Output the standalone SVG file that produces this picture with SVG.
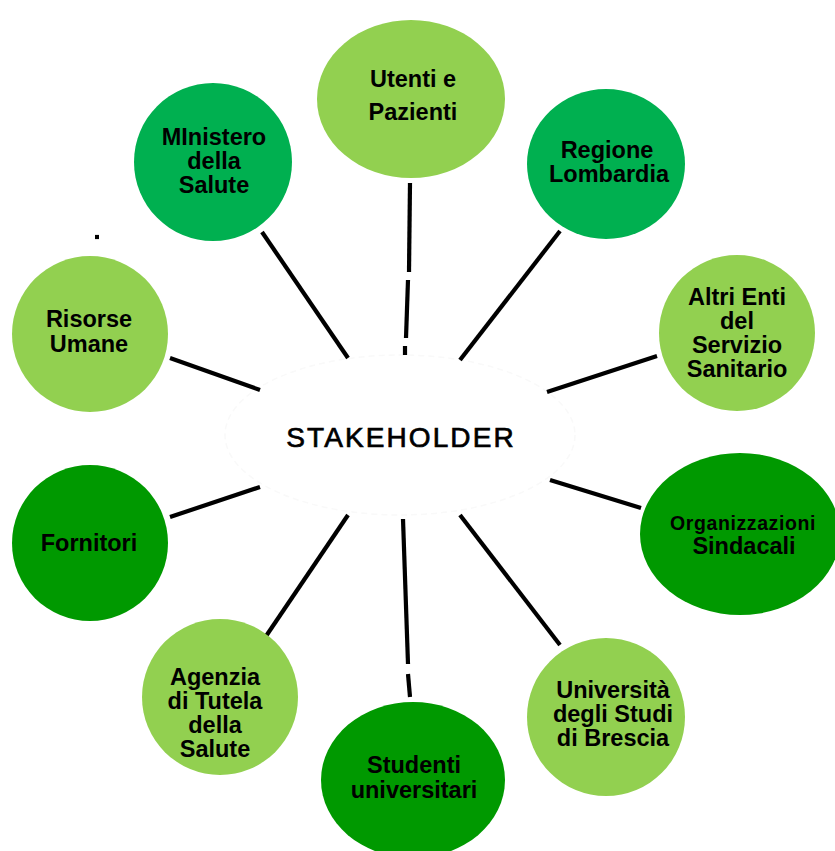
<svg xmlns="http://www.w3.org/2000/svg" width="835" height="851" viewBox="0 0 835 851">
  <style>
    .light { fill: #92D050; }
    .mid { fill: #00B050; }
    .dark { fill: #009900; }
    .lbl { font-family: "Liberation Sans", Arial, sans-serif; font-weight: bold; font-size: 23.5px; fill: #000; text-anchor: middle; }
    .conn line { stroke: #000; stroke-width: 4.2; stroke-linecap: butt; }
    .hub { font-family: "Liberation Sans", Arial, sans-serif; font-size: 28px; letter-spacing: 2.1px; fill: #000; stroke: #000; stroke-width: 0.7; text-anchor: middle; }
  </style>
  <rect width="835" height="851" fill="#ffffff"/>

  <!-- central hub -->
  <g id="hub">
    <ellipse cx="400" cy="435" rx="175" ry="80" fill="#ffffff" stroke="#f9f9f9" stroke-width="1.5" stroke-dasharray="6 4"/>
    <text class="hub" x="401" y="447">STAKEHOLDER</text>
  </g>

  <!-- spokes -->
  <g id="connectors" class="conn">
    <line x1="410" y1="183" x2="409" y2="272"/>
    <line x1="408" y1="280" x2="406" y2="338"/>
    <line x1="405" y1="346" x2="405" y2="355"/>
    <line x1="262" y1="232" x2="348" y2="358"/>
    <line x1="560" y1="231" x2="460" y2="360"/>
    <line x1="170" y1="358" x2="260" y2="390"/>
    <line x1="657" y1="356" x2="547" y2="392"/>
    <line x1="550" y1="480" x2="641" y2="508"/>
    <line x1="170" y1="517" x2="260" y2="487"/>
    <line x1="260" y1="645" x2="348" y2="515"/>
    <line x1="460" y1="515" x2="560" y2="645"/>
    <line x1="403" y1="519" x2="408" y2="664"/>
    <line x1="408" y1="674" x2="410" y2="697"/>
    <line x1="95" y1="237" x2="99" y2="237" stroke-width="1.5"/>
  </g>

  <g id="utenti">
    <ellipse class="light" cx="411" cy="99" rx="94" ry="79"/>
    <text class="lbl" x="413" y="87">Utenti e</text>
    <text class="lbl" x="413" y="120">Pazienti</text>
  </g>

  <g id="regione">
    <ellipse class="mid" cx="606" cy="164" rx="79" ry="75"/>
    <text class="lbl" x="607" y="158">Regione</text>
    <text class="lbl" x="609" y="182">Lombardia</text>
  </g>

  <g id="altri-enti">
    <circle class="light" cx="737" cy="333" r="78"/>
    <text class="lbl" x="737" y="305">Altri Enti</text>
    <text class="lbl" x="737" y="329">del</text>
    <text class="lbl" x="737" y="353">Servizio</text>
    <text class="lbl" x="737" y="377">Sanitario</text>
  </g>

  <g id="sindacati">
    <ellipse class="dark" cx="740" cy="534" rx="100" ry="81"/>
    <text class="lbl" x="743" y="530" style="font-size:19.5px;letter-spacing:0.6px">Organizzazioni</text>
    <text class="lbl" x="744" y="554">Sindacali</text>
  </g>

  <g id="universita">
    <circle class="light" cx="606" cy="717" r="79"/>
    <text class="lbl" x="613" y="698">Università</text>
    <text class="lbl" x="613" y="722">degli Studi</text>
    <text class="lbl" x="613" y="746">di Brescia</text>
  </g>

  <g id="studenti">
    <ellipse class="dark" cx="413" cy="780" rx="92" ry="78"/>
    <text class="lbl" x="414" y="773">Studenti</text>
    <text class="lbl" x="414" y="798">universitari</text>
  </g>

  <g id="ats">
    <circle class="light" cx="220" cy="697" r="78"/>
    <text class="lbl" x="215" y="685">Agenzia</text>
    <text class="lbl" x="215" y="709">di Tutela</text>
    <text class="lbl" x="215" y="733">della</text>
    <text class="lbl" x="215" y="757">Salute</text>
  </g>

  <g id="fornitori">
    <circle class="dark" cx="90" cy="543" r="78"/>
    <text class="lbl" x="89" y="551">Fornitori</text>
  </g>

  <g id="risorse">
    <circle class="light" cx="90" cy="334" r="78"/>
    <text class="lbl" x="89" y="327">Risorse</text>
    <text class="lbl" x="89" y="352">Umane</text>
  </g>

  <g id="ministero">
    <circle class="mid" cx="213" cy="162" r="79"/>
    <text class="lbl" x="214" y="145">MInistero</text>
    <text class="lbl" x="214" y="169">della</text>
    <text class="lbl" x="214" y="193">Salute</text>
  </g>
</svg>
